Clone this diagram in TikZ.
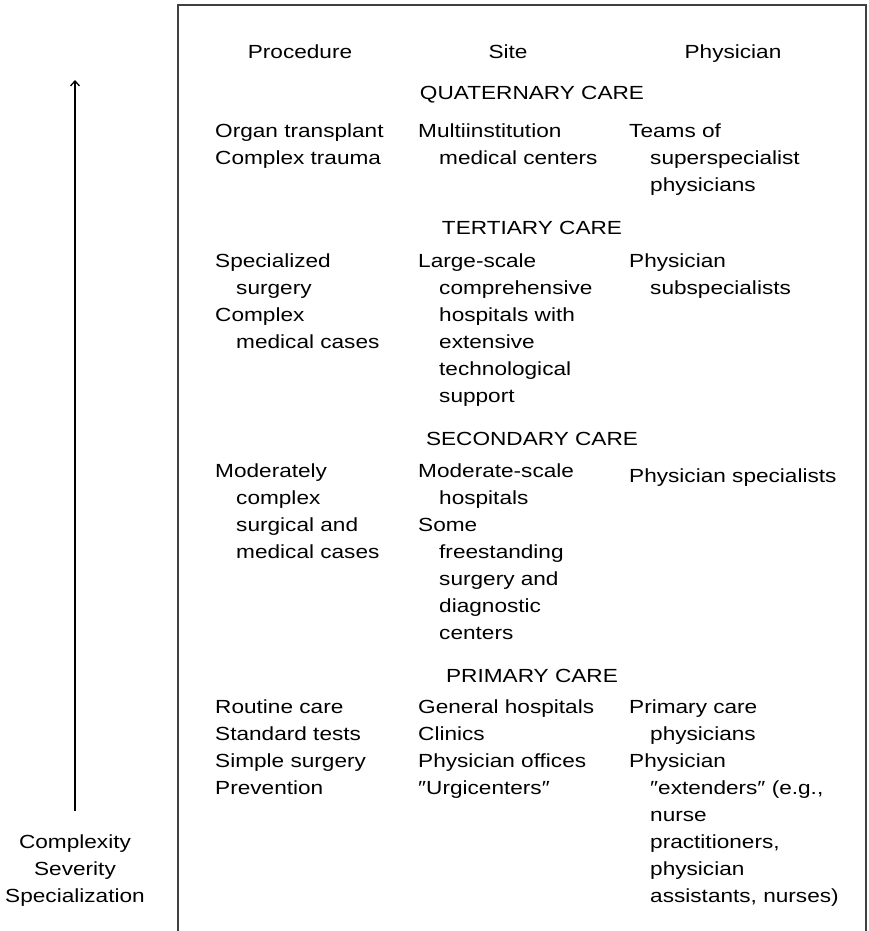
\documentclass[tikz,border=0pt]{standalone}
\usepackage{fontspec}
\setmainfont{Liberation Sans}[FakeStretch=1.19]
\usetikzlibrary{arrows.meta}
\newcommand*{\ind}{\hspace*{21pt}}
\newcommand*{\txtfont}{\fontsize{19}{27}\selectfont}

\begin{document}
\begin{tikzpicture}[x=1pt,y=-1pt,
  cell/.style={inner sep=0pt,align=left,anchor=north west,
    font=\txtfont,execute at begin node=\strut},
  head/.style={inner sep=0pt,anchor=base,font=\txtfont}]
\useasboundingbox (0,0) rectangle (869,931);
% Open frame round the table
\draw[black!75,line width=1.2pt] (178,931) -- (178,5) -- (866,5) -- (866,931);
% Column heads
\node[head] (hproc) at (300,59) {Procedure};
\node[head] (hsite) at (508,59) {Site};
\node[head] (hphys) at (733,59) {Physician};
%% Quaternary care
\node[head] (quat) at (532,100) {QUATERNARY CARE};
\node[cell] (quatproc) at (215,123.1) {Organ transplant\\Complex trauma};
\node[cell] (quatsite) at (418,123.1) {Multiinstitution\\\ind medical centers};
\node[cell] (quatphys) at (629,123.1) {Teams of\\\ind superspecialist\\\ind physicians};
%% Tertiary care
\node[head] (tert) at (532,234) {TERTIARY CARE};
\node[cell] (tertproc) at (215,253.1) {Specialized\\\ind surgery\\Complex\\\ind medical cases};
\node[cell] (tertsite) at (418,253.1) {Large-scale\\\ind comprehensive\\\ind hospitals with\\\ind extensive\\\ind technological\\\ind support};
\node[cell] (tertphys) at (629,253.1) {Physician\\\ind subspecialists};
%% Secondary care
\node[head] (seco) at (532,445) {SECONDARY CARE};
\node[cell] (secoproc) at (215,463.1) {Moderately\\\ind complex\\\ind surgical and\\\ind medical cases};
\node[cell] (secosite) at (418,463.1) {Moderate-scale\\\ind hospitals\\Some\\\ind freestanding\\\ind surgery and\\\ind diagnostic\\\ind centers};
\node[cell] (secophys) at (629,463.1) {Physician specialists};
%% Primary care
\node[head] (prim) at (532,682) {PRIMARY CARE};
\node[cell] (primproc) at (215,699.1) {Routine care\\Standard tests\\Simple surgery\\Prevention};
\node[cell] (primsite) at (418,699.1) {General hospitals\\Clinics\\Physician offices\\″Urgicenters″};
\node[cell] (primphys) at (629,699.1) {Primary care\\\ind physicians\\Physician\\\ind ″extenders″ (e.g.,\\\ind nurse\\\ind practitioners,\\\ind physician\\\ind assistants, nurses)};
% Axis arrow and its label
\coordinate (arrlow) at (75,811);
\coordinate (arrtip) at (75,80);
\draw[line width=1.3pt,-{Straight Barb[length=5pt,width=9pt]}] (arrlow) -- (arrtip);
\node[cell,align=center,anchor=north] (axis) at (75,834.1) {Complexity\\Severity\\Specialization};
\end{tikzpicture}
\end{document}
